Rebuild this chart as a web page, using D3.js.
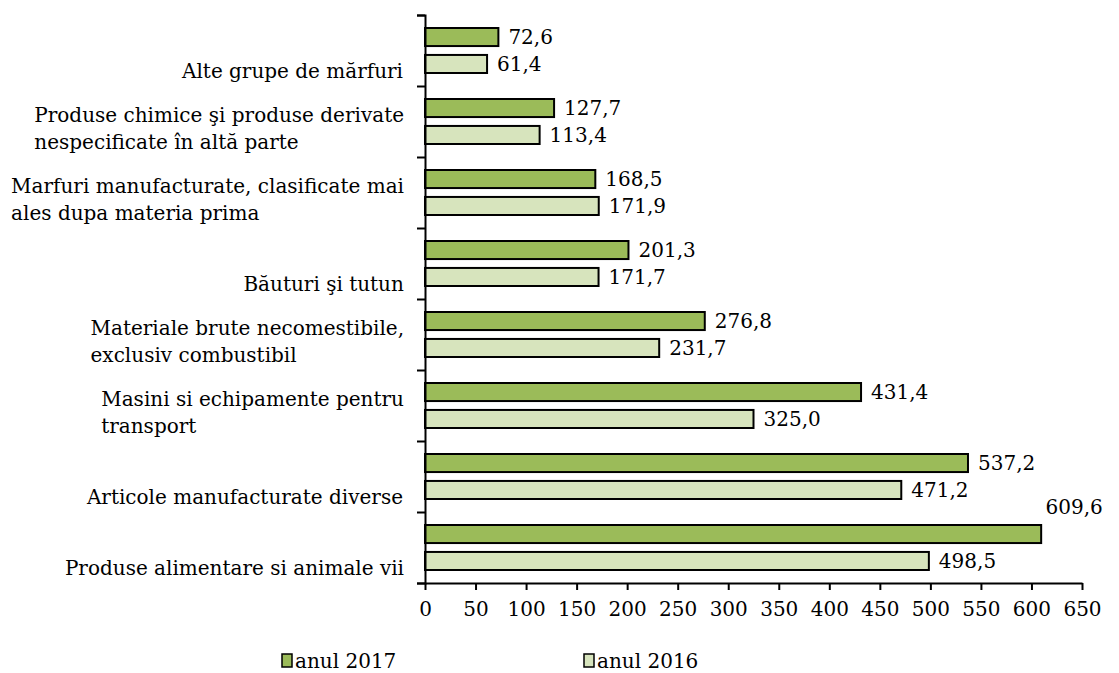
<!DOCTYPE html>
<html>
<head>
<meta charset="utf-8">
<script src="https://cdn.jsdelivr.net/npm/d3@7"></script>
<style>
  body { margin: 0; background: #fff; }
  text { font-family: "DejaVu Serif", serif; fill: #000; }
</style>
</head>
<body>
<div id="chart"></div>
<script>
// categories top to bottom, each split into its printed lines
var categories = [
    ["Alte grupe de mărfuri"],
    ["Produse chimice şi produse derivate", "nespecificate în altă parte"],
    ["Marfuri manufacturate, clasificate mai", "ales dupa materia prima"],
    ["Băuturi şi tutun"],
    ["Materiale brute necomestibile,", "exclusiv combustibil"],
    ["Masini si echipamente pentru", "transport"],
    ["Articole manufacturate diverse"],
    ["Produse alimentare si animale vii"]
];
var seriesNames = ["anul 2017", "anul 2016"];
var values2017 = [72.6, 127.7, 168.5, 201.3, 276.8, 431.4, 537.2, 609.6];
var values2016 = [61.4, 113.4, 171.9, 171.7, 231.7, 325.0, 471.2, 498.5];
var xTicks = [0, 50, 100, 150, 200, 250, 300, 350, 400, 450, 500, 550, 600, 650];
var colors = ["#9bbb59", "#d7e4bd"];

var W = 1119, H = 673;
var svg = d3.select("#chart").append("svg").attr("width", W).attr("height", H);

var x = d3.scaleLinear().domain([0, 650]).range([425, 1082]);
var y0 = d3.scaleBand().domain(d3.range(categories.length)).range([15, 583]);
var y1 = d3.scaleBand().domain(seriesNames).range([13, 58]).paddingInner(0.33);

var fmt = function(v){ return d3.format(".1f")(v).replace(".", ","); };

var rows = categories.map(function(c, i){
    return {i: i, lines: c, vals: [values2017[i], values2016[i]]};
});

// bars
var g = svg.append("g");
var grp = g.selectAll(".cat").data(rows).enter().append("g")
    .attr("transform", function(d){ return "translate(0," + y0(d.i) + ")"; });

grp.selectAll("rect").data(function(d){
    return d.vals.map(function(v, k){ return {v: v, k: k}; });
}).enter().append("rect")
    .attr("x", x(0))
    .attr("y", function(d){ return y1(seriesNames[d.k]); })
    .attr("width", function(d){ return x(d.v) - x(0); })
    .attr("height", y1.bandwidth())
    .attr("fill", function(d){ return colors[d.k]; })
    .attr("stroke", "#000").attr("stroke-width", 2);

// value labels (the longest one sits above its bar)
grp.selectAll(".val").data(function(d){
    return d.vals.map(function(v, k){ return {v: v, k: k}; });
}).enter().append("text")
    .attr("class", "val")
    .attr("x", function(d){ return x(d.v) > 1000 ? x(d.v) + 33 : x(d.v) + 10; })
    .attr("y", function(d){
        var cy = y1(seriesNames[d.k]) + y1.bandwidth() / 2;
        return x(d.v) > 1000 ? cy - 27 : cy;
    })
    .attr("dy", "0.35em")
    .attr("text-anchor", function(d){ return x(d.v) > 1000 ? "middle" : "start"; })
    .style("font-size", "20px")
    .text(function(d){ return fmt(d.v); });

// category labels: block right aligned, lines left aligned, bottom anchored
grp.each(function(d){
    var t = d3.select(this).append("text")
        .style("font-size", "20px");
    var n = d.lines.length;
    d.lines.forEach(function(line, j){
        t.append("tspan").attr("x", 0)
            .attr("y", y0.bandwidth() / 2 + 27 - (n - 1 - j) * 27)
            .text(line);
    });
    var w = t.node().getBBox().width;
    t.attr("transform", "translate(" + (404 - w) + ",0)");
});

// y axis with ticks between categories
var yTick = d3.scaleLinear().domain([0, categories.length]).range([15, 583]);
svg.append("g").attr("transform", "translate(" + x(0) + ",0)")
    .call(d3.axisLeft(yTick).tickValues(d3.range(categories.length + 1)).tickSize(8).tickFormat(""))
    .call(function(a){ a.selectAll("path,line").attr("stroke", "#000").attr("stroke-width", 2); });

// x axis
var xa = svg.append("g").attr("transform", "translate(0,583)")
    .call(d3.axisBottom(x).tickValues(xTicks).tickSize(7).tickSizeOuter(0).tickPadding(12));
xa.selectAll("path,line").attr("stroke", "#000").attr("stroke-width", 2);
xa.selectAll("text").style("font-size", "20px").style("font-family", "DejaVu Serif, serif");

// legend
var legX = [282, 584];
var leg = svg.selectAll(".leg").data(seriesNames).enter().append("g")
    .attr("transform", function(d, i){ return "translate(" + legX[i] + ",654)"; });
leg.append("rect").attr("width", 10).attr("height", 13)
    .attr("fill", function(d, i){ return colors[i]; })
    .attr("stroke", "#000").attr("stroke-width", 1.5);
leg.append("text").attr("x", 13).attr("y", 7).attr("dy", "0.35em")
    .style("font-size", "20px")
    .text(function(d){ return d; });
</script>
</body>
</html>
